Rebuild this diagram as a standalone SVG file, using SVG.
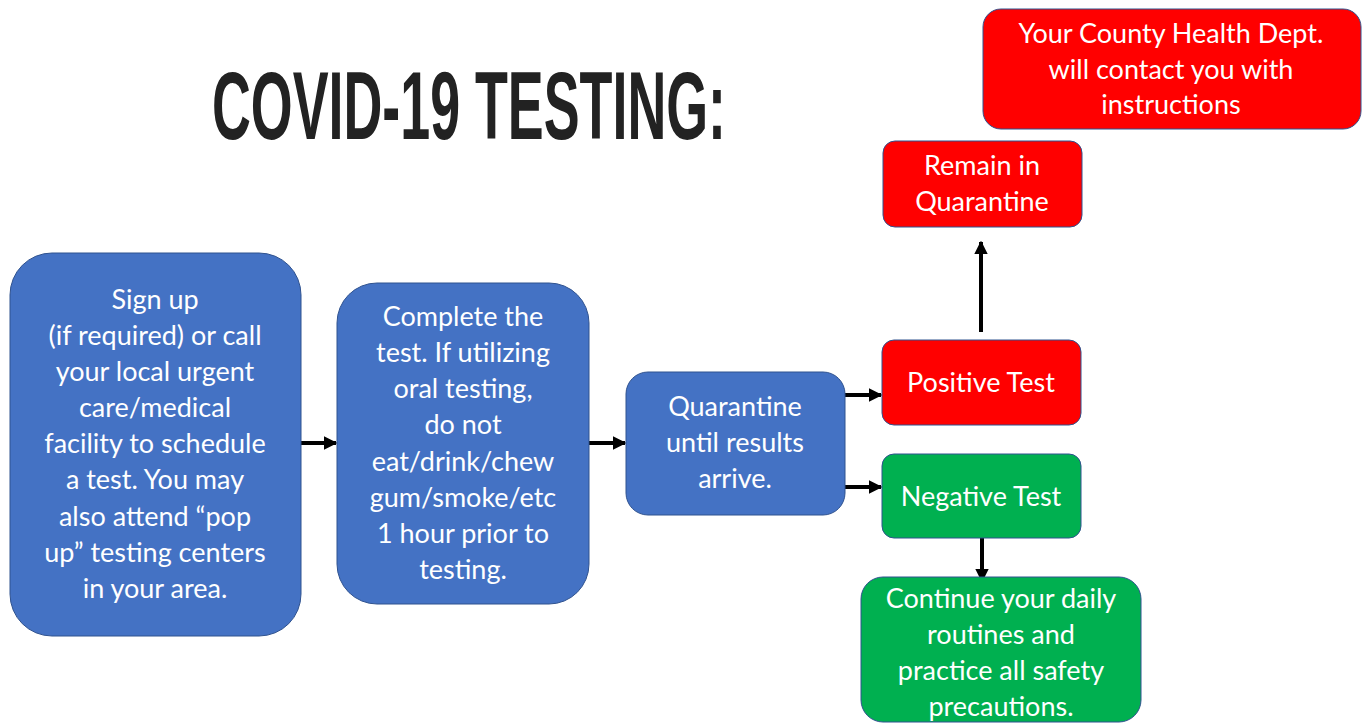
<svg xmlns="http://www.w3.org/2000/svg" width="1362" height="723" viewBox="0 0 1362 723">
<style>
.blue{fill:#4472C4;stroke:#2F528F;stroke-width:1}
.red{fill:#FF0000;stroke:#2F528F;stroke-width:1}
.green{fill:#00B050;stroke:#2F528F;stroke-width:1}
.t{font-family:Lato,"Liberation Sans",sans-serif;font-size:27px;fill:#FFFFFF;text-anchor:middle}
.title{font-family:"Liberation Sans",sans-serif;font-weight:bold;font-size:97px;fill:#222222}
.conn{stroke:#000;stroke-width:4;fill:none;marker-end:url(#ah)}
</style>
<defs>
<marker id="ah" viewBox="0 0 10 10" refX="9" refY="5" markerWidth="3.4" markerHeight="3.6" orient="auto" markerUnits="strokeWidth">
<path d="M0,0 L10,5 L0,10 z" fill="#000"/>
</marker>
</defs>
<rect width="1362" height="723" fill="#FFFFFF"/>
<text class="title" x="212" y="139" textLength="514" lengthAdjust="spacingAndGlyphs">COVID-19 TESTING:</text>
<g id="connectors">
<line class="conn" x1="301" y1="443" x2="336" y2="443"/>
<line class="conn" x1="589" y1="443" x2="625" y2="443"/>
<line class="conn" x1="845" y1="395" x2="881" y2="395"/>
<line class="conn" x1="845" y1="487" x2="881" y2="487"/>
<line class="conn" x1="981" y1="332" x2="981" y2="242"/>
<line class="conn" x1="982" y1="538" x2="982" y2="581"/>
</g>
<g id="signup">
<rect class="blue" x="10" y="253" width="291" height="383" rx="42"/>
<text class="t" x="155" y="309">Sign up</text>
<text class="t" x="155" y="345">(if required) or call</text>
<text class="t" x="155" y="381">your local urgent</text>
<text class="t" x="155" y="417">care/medical</text>
<text class="t" x="155" y="453">facility to schedule</text>
<text class="t" x="155" y="489">a test. You may</text>
<text class="t" x="155" y="526">also attend “pop</text>
<text class="t" x="155" y="562">up” testing centers</text>
<text class="t" x="155" y="598">in your area.</text>
</g>
<g id="complete">
<rect class="blue" x="337" y="283" width="252" height="321" rx="40"/>
<text class="t" x="463" y="326">Complete the</text>
<text class="t" x="463" y="362">test. If utilizing</text>
<text class="t" x="463" y="398">oral testing,</text>
<text class="t" x="463" y="434">do not</text>
<text class="t" x="463" y="471">eat/drink/chew</text>
<text class="t" x="463" y="507">gum/smoke/etc</text>
<text class="t" x="463" y="543">1 hour prior to</text>
<text class="t" x="463" y="579">testing.</text>
</g>
<g id="quarantine">
<rect class="blue" x="626" y="372" width="219" height="143" rx="22"/>
<text class="t" x="735" y="416">Quarantine</text>
<text class="t" x="735" y="452">until results</text>
<text class="t" x="735" y="488">arrive.</text>
</g>
<g id="positive">
<rect class="red" x="882" y="340" width="199" height="85" rx="12"/>
<text class="t" x="981" y="392">Positive Test</text>
</g>
<g id="negative">
<rect class="green" x="882" y="454" width="199" height="84" rx="12"/>
<text class="t" x="981" y="506">Negative Test</text>
</g>
<g id="remain">
<rect class="red" x="883" y="141" width="199" height="86" rx="12"/>
<text class="t" x="982" y="175">Remain in</text>
<text class="t" x="982" y="211">Quarantine</text>
</g>
<g id="county">
<rect class="red" x="983" y="9" width="378" height="120" rx="18"/>
<text class="t" x="1171" y="43">Your County Health Dept.</text>
<text class="t" x="1171" y="79">will contact you with</text>
<text class="t" x="1171" y="114">instructions</text>
</g>
<g id="continue">
<rect class="green" x="861" y="577" width="280" height="145" rx="22"/>
<text class="t" x="1001" y="608">Continue your daily</text>
<text class="t" x="1001" y="644">routines and</text>
<text class="t" x="1001" y="680">practice all safety</text>
<text class="t" x="1001" y="716">precautions.</text>
</g>
</svg>
